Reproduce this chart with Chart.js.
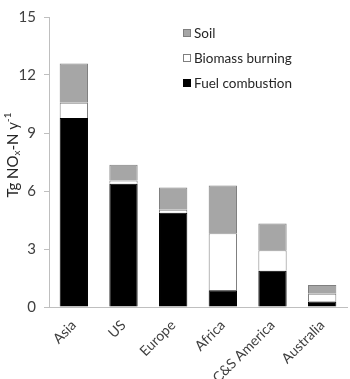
<!DOCTYPE html>
<html>
<head>
<meta charset="utf-8">
<script src="https://cdn.jsdelivr.net/npm/chart.js@4"></script>
<style>
  html, body { margin: 0; padding: 0; background: #fff; }
  #wrap { width: 350px; height: 379px; }
</style>
</head>
<body>
<div id="wrap"><canvas id="myChart"></canvas></div>
<script>
const regions = ['Asia', 'US', 'Europe', 'Africa', 'C&S America', 'Australia']
const fuelCombustion = [9.78, 6.38, 4.88, 0.86, 1.88, 0.28]
const biomassBurning = [0.78, 0.16, 0.15, 2.95, 1.05, 0.40]
const soil = [2.04, 0.82, 1.15, 2.47, 1.39, 0.46]
const yTicks = [0, 3, 6, 9, 12, 15]

const fontName = 'Lato, "Open Sans", sans-serif'

// legend drawn inside the plot, top to bottom = reverse stack order
const insideLegend = {
    id: 'insideLegend',
    afterDraw(chart) {
        const ctx = chart.ctx
        const sets = chart.data.datasets.slice().reverse()
        ctx.save()
        ctx.font = '13.5px ' + fontName
        ctx.textBaseline = 'middle'
        sets.forEach(function (ds, i) {
            const y = 33 + i * 25
            ctx.fillStyle = ds.backgroundColor
            ctx.fillRect(183.5, y - 3.5, 7, 7)
            ctx.strokeStyle = ds.borderColor
            ctx.lineWidth = 1
            ctx.strokeRect(183.5, y - 3.5, 7, 7)
            ctx.fillStyle = '#262626'
            ctx.fillText(ds.label, 194, y + 1)
        })
        ctx.restore()
    }
}

// y title with sub/superscripts
const yTitle = {
    id: 'yTitle',
    afterDraw(chart) {
        const ctx = chart.ctx
        const parts = [
            { t: 'Tg NO', size: 15, dy: 0 },
            { t: 'x', size: 10, dy: 4 },
            { t: '-N y', size: 15, dy: 0 },
            { t: '-1', size: 10, dy: -5 }
        ]
        ctx.save()
        ctx.translate(13, 155)
        ctx.rotate(-Math.PI / 2)
        ctx.textBaseline = 'middle'
        ctx.fillStyle = '#262626'
        let total = 0
        parts.forEach(p => { ctx.font = p.size + 'px ' + fontName; p.w = ctx.measureText(p.t).width; total += p.w })
        let x = -total / 2
        parts.forEach(p => {
            ctx.font = p.size + 'px ' + fontName
            ctx.fillText(p.t, x, p.dy)
            x += p.w
        })
        ctx.restore()
    }
}

const ctx = document.getElementById('myChart')
const myChart = new Chart(ctx, {
    type: 'bar',
    data: {
        labels: regions,
        datasets: [{
            label: 'Fuel combustion',
            data: fuelCombustion,
            backgroundColor: '#000000',
            borderColor: '#000000',
            borderWidth: 1
        }, {
            label: 'Biomass burning',
            data: biomassBurning,
            backgroundColor: '#ffffff',
            borderColor: '#7f7f7f',
            borderWidth: 1
        }, {
            label: 'Soil',
            data: soil,
            backgroundColor: '#a6a6a6',
            borderColor: '#7f7f7f',
            borderWidth: 1
        }]
    },
    options: {
        responsive: true,
        maintainAspectRatio: false,
        animation: false,
        layout: { padding: { top: 6, right: 3, left: 0, bottom: 0 } },
        plugins: {
            legend: { display: false },
            tooltip: { enabled: false }
        },
        datasets: {
            bar: { barPercentage: 0.57, categoryPercentage: 1 }
        },
        scales: {
            x: {
                stacked: true,
                grid: { display: false },
                border: { display: true, color: '#bfbfbf' },
                ticks: {
                    color: '#404040',
                    font: { family: fontName, size: 14 },
                    minRotation: 45,
                    maxRotation: 45,
                    padding: 2
                },
                afterFit: s => { s.height = 72 }
            },
            y: {
                stacked: true,
                min: 0,
                max: 15,
                afterBuildTicks: s => { s.ticks = yTicks.map(v => ({ value: v })) },
                grid: { drawOnChartArea: false, drawTicks: true, tickLength: 5, color: '#bfbfbf' },
                border: { display: true, color: '#bfbfbf' },
                ticks: {
                    color: '#404040',
                    font: { family: fontName, size: 15 },
                    padding: 8
                },
                afterFit: s => { s.width = 49 }
            }
        }
    },
    plugins: [insideLegend, yTitle]
})
</script>
</body>
</html>
